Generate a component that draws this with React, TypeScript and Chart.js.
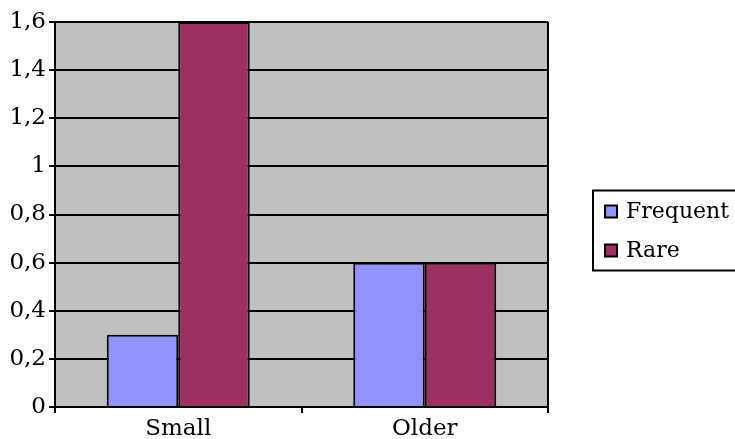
import React, { useEffect, useRef } from "react";
import { Chart, registerables } from "chart.js";

Chart.register(...registerables);

const categories = ["Small", "Older"];
const frequentValues = [0.3, 0.6];
const rareValues = [1.6, 0.6];
const seriesLabels = ["Frequent", "Rare"];
const seriesColors = ["#9393ff", "#9c3060"];

const FONT = "'DejaVu Serif', serif";
const FSIZE = 23;

const plotBg = {
  id: "plotBg",
  beforeDraw(chart: any) {
    const { ctx, chartArea: a } = chart;
    ctx.save();
    ctx.fillStyle = "#c0c0c0";
    ctx.fillRect(a.left, a.top, a.right - a.left, a.bottom - a.top);
    ctx.restore();
  },
  afterDraw(chart: any) {
    const { ctx, chartArea: a } = chart;
    ctx.save();
    ctx.strokeStyle = "#000";
    ctx.lineWidth = 2;
    ctx.beginPath();
    ctx.moveTo(a.right, a.top);
    ctx.lineTo(a.right, a.bottom);
    ctx.stroke();
    const boxH = 80;
    const boxL = a.right + 45;
    const boxT = a.top + (a.bottom - a.top - boxH) / 2 + 16;
    ctx.lineWidth = 2;
    ctx.strokeRect(boxL, boxT, 200, boxH);
    ctx.font = `22px ${FONT}`;
    ctx.textBaseline = "middle";
    ctx.textAlign = "left";
    chart.data.datasets.forEach((ds: any, i: number) => {
      const cy = boxT + 21 + i * 39;
      ctx.fillStyle = ds.backgroundColor;
      ctx.fillRect(boxL + 12, cy - 6, 12, 12);
      ctx.lineWidth = 2;
      ctx.strokeRect(boxL + 12, cy - 6, 12, 12);
      ctx.fillStyle = "#000";
      ctx.fillText(ds.label, boxL + 33, cy + 1);
    });
    ctx.restore();
  },
};

export default function App() {
  const ref = useRef<HTMLCanvasElement>(null);
  useEffect(() => {
    if (!ref.current) return;
    const chart = new Chart(ref.current, {
      type: "bar",
      data: {
        labels: categories,
        datasets: [
          {
            label: seriesLabels[0],
            data: frequentValues,
            backgroundColor: seriesColors[0],
            borderColor: "#000",
            borderWidth: 2,
          },
          {
            label: seriesLabels[1],
            data: rareValues,
            backgroundColor: seriesColors[1],
            borderColor: "#000",
            borderWidth: 2,
          },
        ],
      },
      options: {
        animation: false,
        responsive: true,
        maintainAspectRatio: false,
        layout: { padding: { top: 22, right: 187, left: 0, bottom: 0 } },
        datasets: { bar: { barPercentage: 1, categoryPercentage: 0.58 } },
        plugins: { legend: { display: false }, tooltip: { enabled: false } },
        scales: {
          x: {
            afterFit: (s: any) => {
              s.height = 32;
            },
            grid: {
              display: true,
              offset: true,
              drawOnChartArea: false,
              drawTicks: true,
              tickLength: 6,
              color: "#000",
              lineWidth: 2,
            },
            border: { display: true, color: "#000", width: 2 },
            ticks: { color: "#000", font: { family: FONT, size: FSIZE }, padding: 2 },
          },
          y: {
            min: 0,
            max: 1.6,
            afterFit: (s: any) => {
              s.width = 55;
            },
            grid: { color: "#000", lineWidth: 2, tickLength: 6 },
            border: { display: true, color: "#000", width: 2 },
            ticks: {
              stepSize: 0.2,
              color: "#000",
              padding: 3,
              font: { family: FONT, size: FSIZE },
              callback: (v: any) => String(Number(Number(v).toFixed(1))).replace(".", ","),
            },
          },
        },
      },
      plugins: [plotBg],
    });
    return () => chart.destroy();
  }, []);
  return (
    <div style={{ position: "fixed", left: 0, top: 0, width: 735, height: 439, background: "#fff" }}>
      <canvas ref={ref} />
    </div>
  );
}
